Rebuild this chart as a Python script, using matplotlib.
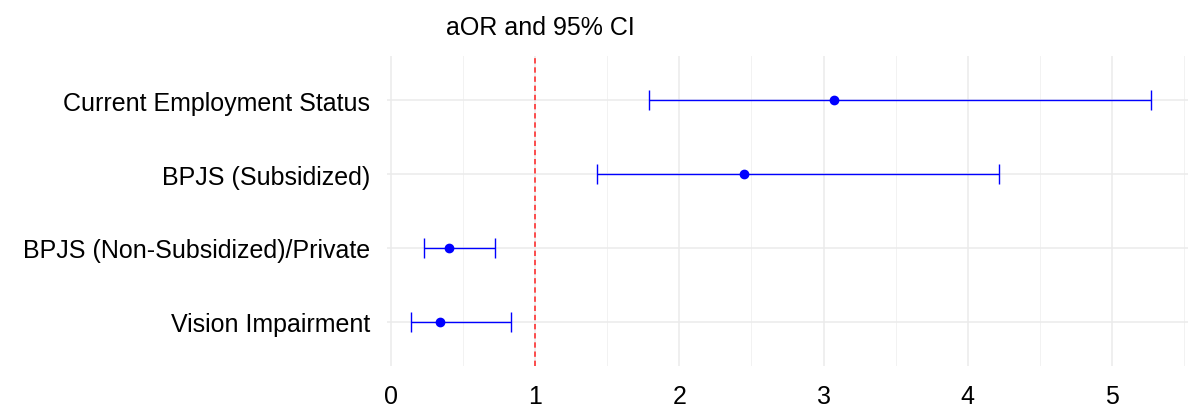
import matplotlib.pyplot as plt
from matplotlib.ticker import MultipleLocator

# values
labels = ["Current Employment Status", "BPJS (Subsidized)",
          "BPJS (Non-Subsidized)/Private", "Vision Impairment"]
aor = [3.07, 2.45, 0.40, 0.34]
ci_low = [1.79, 1.43, 0.23, 0.14]
ci_high = [5.27, 4.22, 0.72, 0.83]
xticks = [0, 1, 2, 3, 4, 5]

plt.rcParams['font.family'] = ['Liberation Sans', 'DejaVu Sans']


def main():
    fig = plt.figure(figsize=(11.9, 4.1), dpi=100)
    ax = fig.add_axes([387 / 1190, 1 - 367 / 410, (1188 - 387) / 1190, (367 - 57) / 410])

    # top row first, like ggplot with reversed factor
    ypos = [len(labels) - i for i in range(len(labels))]
    err = [[a - l for a, l in zip(aor, ci_low)], [h - a for a, h in zip(aor, ci_high)]]

    ax.errorbar(aor, ypos, xerr=err, fmt='o', color='#0000FF', ecolor='#0000FF',
                markersize=6, elinewidth=1.0, capsize=7, capthick=1.0, zorder=3)
    ax.axvline(1, color='#FF2020', linestyle=(0, (3.5, 2.5)), linewidth=1.1, zorder=2)

    ax.set_xlim(-0.03, 5.53)
    ax.set_ylim(0.4, 4.6)
    ax.set_xticks(xticks)
    ax.xaxis.set_minor_locator(MultipleLocator(0.5))
    ax.set_yticks(ypos)
    ax.set_yticklabels(labels)

    ax.grid(which='major', color='#EBEBEB', linewidth=1.1, zorder=0)
    ax.grid(which='minor', axis='x', color='#F2F2F2', linewidth=0.7, zorder=0)
    ax.set_axisbelow(True)
    for s in ax.spines.values():
        s.set_visible(False)
    ax.tick_params(which='both', length=0)
    ax.tick_params(axis='x', labelsize=18, pad=13, colors='black')
    ax.tick_params(axis='y', labelsize=18, pad=12, colors='black')

    fig.text(540 / 1190, 1 - 28 / 410, "aOR and 95% CI", ha='center', va='center', fontsize=18)

    fig.savefig('out.png', dpi=100)


main()
